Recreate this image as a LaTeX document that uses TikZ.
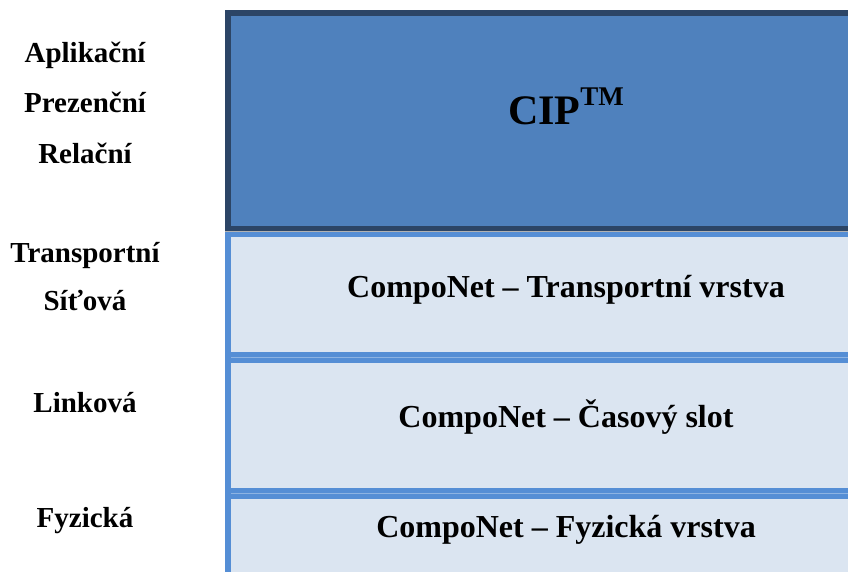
\documentclass[tikz,border=0pt]{standalone}
\usepackage{fontspec}
\setmainfont{Liberation Serif}
\definecolor{cipfill}{HTML}{4F81BD}
\definecolor{cipline}{HTML}{2C4566}
\definecolor{layfill}{HTML}{DBE5F1}
\definecolor{layline}{HTML}{558ED5}
\definecolor{seam}{HTML}{8DB3E2}
\tikzset{
  cipbox/.style={fill=cipfill, draw=cipline, line width=5.5pt},
  laybox/.style={fill=layfill, draw=layline, line width=5.5pt},
  seamline/.style={draw=seam, line width=1pt},
  lbl/.style={anchor=base, inner sep=0pt, font=\fontsize{29}{34}\selectfont\bfseries},
  boxtxt/.style={anchor=base, inner sep=0pt, font=\fontsize{32}{38}\selectfont\bfseries},
  ciptxt/.style={anchor=base, inner sep=0pt, font=\fontsize{42}{48}\selectfont\bfseries}
}
\begin{document}
\begin{tikzpicture}[x=1pt,y=-1pt]
\useasboundingbox (0,0) rectangle (848,571);
\clip (0,0) rectangle (848,571);
\fill[white] (0,0) rectangle (848,571);
% layer boxes
\draw[cipbox] (228,12.75) rectangle (912,228.5);
\draw[laybox] (228,233.75) rectangle (912,354.25);
\draw[laybox] (228,359.75) rectangle (912,490.25);
\draw[laybox] (228,495.75) rectangle (912,620);
% seams between adjacent borders
\coordinate (s0a) at (225,231.3);
\coordinate (s0b) at (912,231.3);
\coordinate (s1a) at (231,357);
\coordinate (s1b) at (912,357);
\coordinate (s2a) at (231,493);
\coordinate (s2b) at (912,493);
\draw[draw=gray!60, line width=0.8pt] (s0a) -- (s0b);
\draw[seamline] (s1a) -- (s1b);
\draw[seamline] (s2a) -- (s2b);
% box texts
\node[ciptxt] (cip) at (566,124) {CIP\raisebox{19pt}{\fontsize{27}{27}\selectfont\bfseries TM}};
\node[boxtxt] (tr) at (566,297) {CompoNet – Transportní vrstva};
\node[boxtxt] (cs) at (566,427) {CompoNet – Časový slot};
\node[boxtxt] (fv) at (566,537) {CompoNet – Fyzická vrstva};
% OSI labels
\node[lbl] (apl) at (85,62) {Aplikační};
\node[lbl] (pre) at (85,112) {Prezenční};
\node[lbl] (rel) at (85,163) {Relační};
\node[lbl] (tra) at (85,262) {Transportní};
\node[lbl] (sit) at (85,310) {Síťová};
\node[lbl] (lin) at (85,412) {Linková};
\node[lbl] (fyz) at (85,527) {Fyzická};
\end{tikzpicture}
\end{document}
